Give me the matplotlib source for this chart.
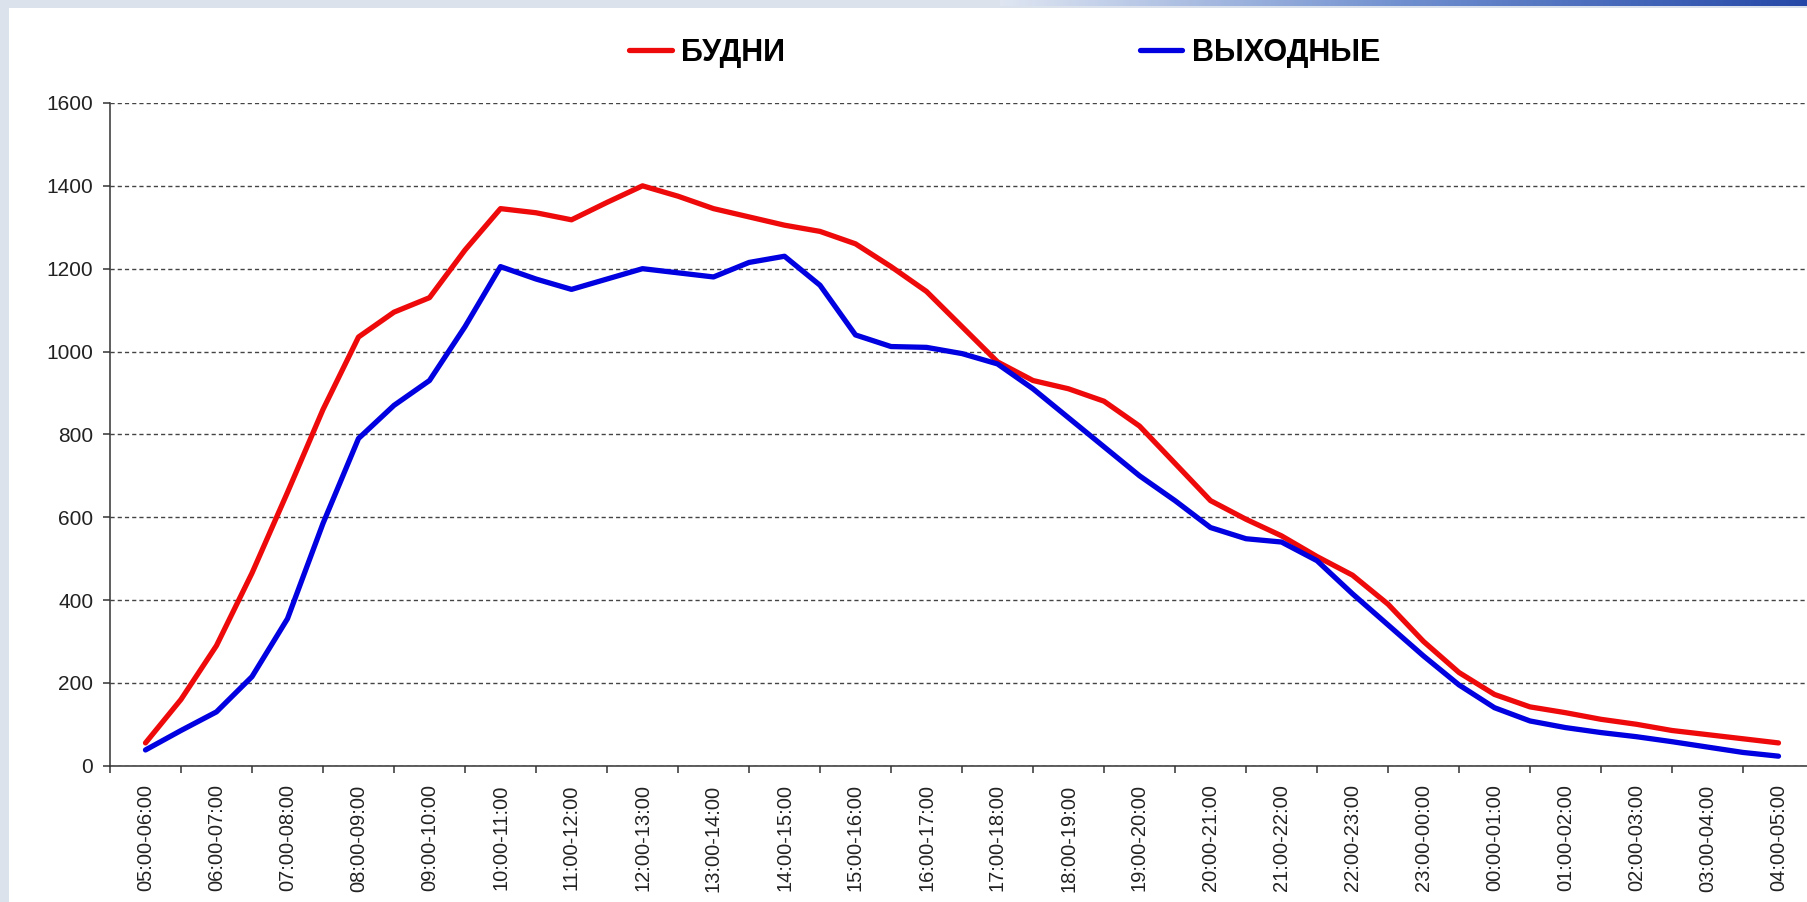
import matplotlib.pyplot as plt
import numpy as np
from matplotlib.patches import Rectangle

# Hour slots on the x axis
hours = ["05:00-06:00", "06:00-07:00", "07:00-08:00", "08:00-09:00", "09:00-10:00",
         "10:00-11:00", "11:00-12:00", "12:00-13:00", "13:00-14:00", "14:00-15:00",
         "15:00-16:00", "16:00-17:00", "17:00-18:00", "18:00-19:00", "19:00-20:00",
         "20:00-21:00", "21:00-22:00", "22:00-23:00", "23:00-00:00", "00:00-01:00",
         "01:00-02:00", "02:00-03:00", "03:00-04:00", "04:00-05:00"]

# Values read every half slot (slot centre and midway to the next one)
weekdays = [55, 160, 290, 465, 660, 860, 1035, 1095, 1130, 1245, 1345, 1335, 1318, 1360,
            1400, 1375, 1345, 1325, 1305, 1290, 1260, 1205, 1145, 1060, 975, 930, 910,
            880, 820, 730, 640, 595, 555, 505, 460, 390, 300, 225, 172, 142, 128, 112,
            100, 85, 75, 65, 55]
weekends = [38, 85, 130, 215, 355, 585, 790, 870, 930, 1060, 1205, 1175, 1150, 1175,
            1200, 1190, 1180, 1215, 1230, 1160, 1040, 1012, 1010, 995, 970, 910, 840,
            770, 700, 640, 575, 548, 540, 495, 415, 340, 265, 195, 140, 108, 92, 80,
            70, 58, 45, 32, 23]
labels = ["БУДНИ", "ВЫХОДНЫЕ"]

plt.rcParams["font.family"] = ["Liberation Sans", "DejaVu Sans"]

fig = plt.figure(figsize=(18.08, 9.02), dpi=100, facecolor="#dce2ec")
# white slide panel behind everything
bg = fig.add_axes([0, 0, 1, 1], zorder=-10)
bg.set_xlim(0, 1808)
bg.set_ylim(902, 0)
bg.axis("off")
bg.add_patch(Rectangle((9, 8), 1808, 902, facecolor="white", edgecolor="none"))
# blue bar at top right
bar = fig.add_axes([1000 / 1808, 1 - 6 / 902, 808 / 1808, 6 / 902])
bar.imshow(np.linspace(0, 1, 256)[None, :], aspect="auto",
           cmap=plt.matplotlib.colors.LinearSegmentedColormap.from_list(
               "b", ["#dfe6f2", "#6f8fcf", "#2548a8"]))
bar.axis("off")

ax = fig.add_axes([110 / 1808, 136.3 / 902, 1704 / 1808, 662.7 / 902])
ax.set_facecolor("none")

x = np.arange(len(weekdays)) / 2
ax.plot(x, weekdays, color="#ee0a0a", lw=3.8, label=labels[0],
        solid_capstyle="round", solid_joinstyle="round")
ax.plot(x, weekends, color="#0000e0", lw=3.8, label=labels[1],
        solid_capstyle="round", solid_joinstyle="round")

ax.set_xlim(-0.5, len(hours) - 0.5)
ax.set_ylim(0, 1600)
ax.set_yticks(range(0, 1601, 200))
ax.set_xticks(range(len(hours)))
ax.set_xticklabels(hours, rotation=90, va="top", ha="center")
ax.set_xticks(np.arange(len(hours) + 1) - 0.5, minor=True)
ax.tick_params(axis="x", which="major", length=0, pad=13.5, labelsize=14.5, labelcolor="#222222")
ax.tick_params(axis="x", which="minor", length=5, width=1.1, color="#333333")
ax.tick_params(axis="y", length=5, width=1.1, color="#333333", pad=7, labelsize=15,
               labelcolor="#222222")

ax.grid(axis="y", color="#444444", linestyle=(0, (3, 2.2)), linewidth=1.0)
ax.set_axisbelow(True)
for s in ["top", "right"]:
    ax.spines[s].set_visible(False)
for s in ["left", "bottom"]:
    ax.spines[s].set_color("#333333")
    ax.spines[s].set_linewidth(1.1)

fig.legend(loc="center left", bbox_to_anchor=(614 / 1808, 1 - 53 / 902), ncol=2,
           frameon=False, borderpad=0, handlelength=1.4, handletextpad=0.3,
           columnspacing=11.6,
           prop={"family": ["Liberation Sans Narrow", "Liberation Sans"], "weight": "bold",
                 "size": 22})

fig.savefig("out.png", dpi=100, facecolor=fig.get_facecolor())
